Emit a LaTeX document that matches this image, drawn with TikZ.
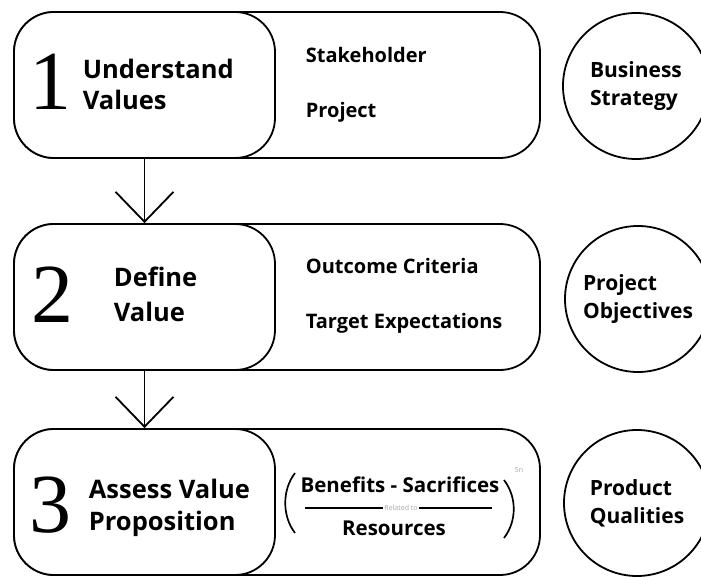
\documentclass[tikz,border=0pt]{standalone}
\usepackage{fontspec}
\setsansfont{Open Sans}
\newfontfamily\numfont{Liberation Serif}
\usetikzlibrary{arrows.meta}
\begin{document}
\begin{tikzpicture}[x=1pt,y=-1pt, line width=1.8pt,
  box/.style={draw, rounded corners=40pt, inner sep=0pt, minimum height=146pt},
  lbl/.style={font=\sffamily\bfseries\fontsize{25.5}{30}\selectfont, anchor=base west, inner sep=0pt},
  sub/.style={font=\sffamily\bfseries\fontsize{20}{24}\selectfont, anchor=base west, inner sep=0pt},
  frm/.style={font=\sffamily\bfseries\fontsize{20.5}{24}\selectfont, anchor=base, inner sep=0pt},
  num/.style={font=\numfont\fontsize{84}{84}\selectfont, inner sep=0pt},
  circ/.style={draw, circle, minimum size=146pt, inner sep=0pt, align=left, font=\sffamily\bfseries\fontsize{21}{28}\selectfont},
  flow/.style={-{Straight Barb[length=30pt,width=58pt]}},
  tiny/.style={font=\sffamily\fontsize{7}{8}\selectfont, text=black!35, inner sep=1pt}]
\useasboundingbox (0,0) rectangle (701,577);
\clip (0,0) rectangle (701,577);
% boxes
\node[box, minimum width=526pt] (o1) at (277,85) {};
\node[box, minimum width=261pt, fill=white] (b1) at (144.5,85) {};
\node[box, minimum width=526pt] (o2) at (277,297) {};
\node[box, minimum width=261pt, fill=white] (b2) at (144.5,297) {};
\node[box, minimum width=526pt] (o3) at (277,502) {};
\node[box, minimum width=261pt, fill=white] (b3) at (144.5,502) {};
% arrows
\draw[flow] (b1.south) -- (b2.north);
\draw[flow] (b2.south) -- (b3.north);
% numbers
\node[num] (n1) at (50,82) {1};
\node[num] (n2) at (52,295) {2};
\node[num] (n3) at (50,505) {3};
% labels
\node[lbl] (l1a) at (82,79) {Understand};
\node[lbl] (l1b) at (82,110) {Values};
\node[lbl] (l2a) at (113,287) {Define};
\node[lbl] (l2b) at (113,321) {Value};
\node[lbl] (l3a) at (88,498) {Assess Value};
\node[lbl] (l3b) at (88,530) {Proposition};
% sub texts
\node[sub] (s1a) at (305,63) {Stakeholder};
\node[sub] (s1b) at (305,118) {Project};
\node[sub] (s2a) at (305,273) {Outcome Criteria};
\node[sub] (s2b) at (305,328) {Target Expectations};
% formula
\node[frm] (ben) at (400,492) {Benefits - Sacrifices};
\node[frm] (res) at (394,535) {Resources};
\node[tiny] (rel) at (401,508) {Related to};
\coordinate (fl) at (305,508);
\coordinate (fr) at (492,508);
\draw[line width=1.4pt] (fl) -- (rel.west);
\draw[line width=1.4pt] (rel.east) -- (fr);
\draw[line width=1.7pt] (295,473) .. controls (282,490) and (282,516) .. (295,533);
\draw[line width=1.7pt] (504,480) .. controls (517,497) and (517,521) .. (504,538);
\node[tiny] (pow) at (519,470) {5n};
% circles
\node[circ] (c1) at (636,86) {Business\\Strategy};
\node[circ] (c2) at (638,299) {Project\\Objectives};
\node[circ] (c3) at (637,503) {Product\\Qualities};
\end{tikzpicture}
\end{document}
